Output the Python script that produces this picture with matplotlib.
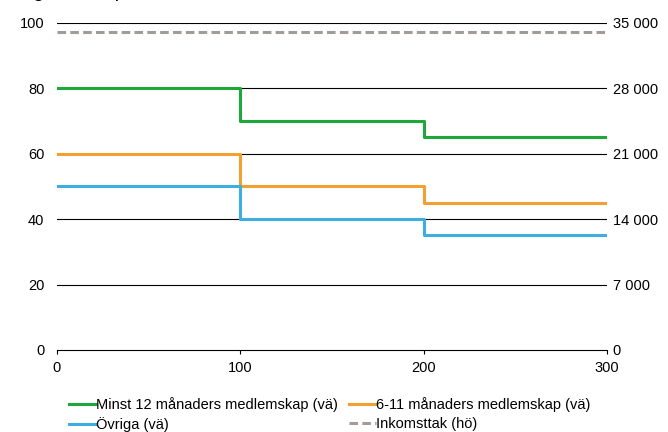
import matplotlib.pyplot as plt
from matplotlib.ticker import FuncFormatter

plt.rcParams['font.family'] = ['Liberation Sans', 'DejaVu Sans']

# data
inkomst = [0, 100, 200, 300]
minst_12 = [80, 70, 65, 65]
manader_6_11 = [60, 50, 45, 45]
ovriga = [50, 40, 35, 35]
inkomsttak = [34000, 34000, 34000, 34000]

labels = ["Minst 12 månaders medlemskap (vä)", "6-11 månaders medlemskap (vä)",
          "Övriga (vä)", "Inkomsttak (hö)"]
colors = ["#1fa83a", "#f3a031", "#3eaee0", "#a39b97"]

fig = plt.figure(figsize=(6.68, 4.32), dpi=100)
ax = fig.add_axes([0.0853, 0.19, 0.8234, 0.7568])
ax2 = ax.twinx()

# horizontal grid lines
for y in [20, 40, 60, 80, 100]:
    ax.axhline(y, color="black", lw=0.8, zorder=1)

l1, = ax.step(inkomst, minst_12, where="post", color=colors[0], lw=2.2, zorder=3)
l2, = ax.step(inkomst, manader_6_11, where="post", color=colors[1], lw=2.2, zorder=3)
l3, = ax.step(inkomst, ovriga, where="post", color=colors[2], lw=2.2, zorder=3)
l4, = ax2.plot(inkomst, inkomsttak, color=colors[3], lw=2.2, dashes=(2.8, 1.4))

ax.set_xlim(0, 300)
ax.set_ylim(0, 100)
ax2.set_ylim(0, 35000)
ax.set_xticks([0, 100, 200, 300])
ax.set_yticks([0, 20, 40, 60, 80, 100])
ax2.set_yticks([0, 7000, 14000, 21000, 28000, 35000])
ax2.yaxis.set_major_formatter(FuncFormatter(lambda v, p: f"{int(v):,}".replace(",", " ")))

for a in (ax, ax2):
    for s in ["top", "left", "right", "bottom"]:
        a.spines[s].set_visible(False)
ax.spines["bottom"].set_visible(True)
ax.spines["bottom"].set_linewidth(0.8)

fs = 10.5
ax.tick_params(axis="y", length=0, labelsize=fs, pad=9)
ax2.tick_params(axis="y", length=0, labelsize=fs, pad=4)
ax.tick_params(axis="x", length=3, width=0.8, labelsize=fs, pad=5)

# row-wise order for a 2-column legend
handles = [l1, l3, l2, l4]
leg_labels = [labels[0], labels[2], labels[1], labels[3]]
fig.legend(handles, leg_labels, ncol=2, loc="upper left",
           bbox_to_anchor=(0.104, 0.08), frameon=False, fontsize=fs,
           handlelength=1.8, handletextpad=0.05, columnspacing=0.75,
           labelspacing=0.3, borderaxespad=0, borderpad=0)

# title, cut off at the top edge of the image as in the original
fig.text(0.012, 1.007, "Dag 1–300, procent och kronor",
         fontsize=14, va="baseline", ha="left")

fig.savefig("out.png", dpi=100)
